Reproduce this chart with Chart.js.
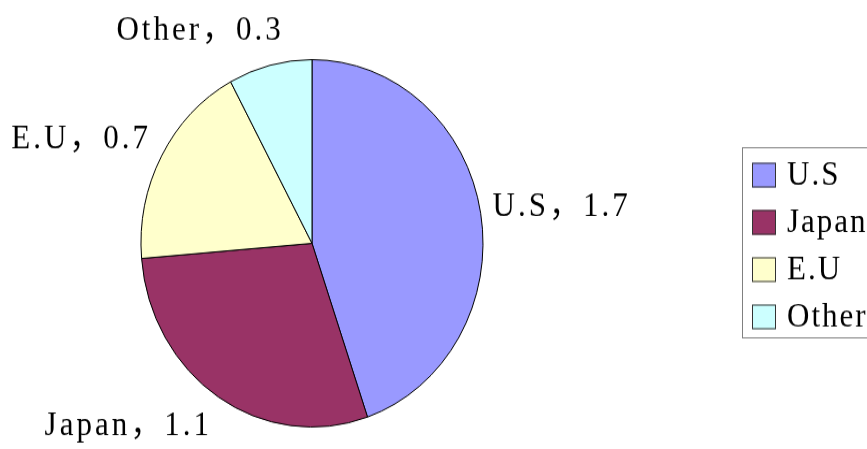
<!DOCTYPE html>
<html>
<head>
<meta charset="utf-8">
<title>Pie</title>
<script src="https://cdn.jsdelivr.net/npm/chart.js"></script>
<style>
  html, body { margin: 0; padding: 0; background: #fff; width: 867px; height: 449px; overflow: hidden; }
  /* the reference pie is a little taller than wide, so stretch the whole drawing */
  #wrap { width: 867px; height: 418px; transform: scaleY(1.0742); transform-origin: 0 0; }
</style>
</head>
<body>
<div id="wrap"><canvas id="pie" width="867" height="418"></canvas></div>
<script>
const categories = ['U.S', 'Japan', 'E.U', 'Other'];
const values = [1.7, 1.1, 0.7, 0.3];
const sliceColors = ['#9999ff', '#993366', '#ffffcc', '#ccffff'];

const FONT = '31px "Liberation Serif", "Noto Sans CJK SC", serif';

// labels outside each slice: "name， value"
const sliceLabels = {
  id: 'sliceLabels',
  afterDatasetsDraw(chart) {
    const ctx = chart.ctx;
    const meta = chart.getDatasetMeta(0);
    ctx.save();
    ctx.font = FONT;
    ctx.fillStyle = '#000';
    ctx.textBaseline = 'middle';
    if ('letterSpacing' in ctx) ctx.letterSpacing = '3px';
    meta.data.forEach((arc, i) => {
      const p = arc.getProps(['x', 'y', 'startAngle', 'endAngle', 'outerRadius'], true);
      const mid = (p.startAngle + p.endAngle) / 2;
      const r = p.outerRadius + 12;
      const ax = p.x + Math.cos(mid) * r;
      const ay = p.y + Math.sin(mid) * r;
      const text = categories[i] + '，' + values[i].toFixed(1);
      const w = ctx.measureText(text).width;
      // near the top the label slides back over the slice a bit
      const shift = Math.cos(mid) < 0 && Math.sin(mid) < -0.9 ? w * 0.1 : 0;
      ctx.textAlign = Math.cos(mid) >= 0 ? 'left' : 'right';
      ctx.fillText(text, ax + shift, ay + Math.sin(mid) * 21);
    });
    ctx.restore();
  }
};

// boxed legend on the right, cut off by the page edge like the original
const boxLegend = {
  id: 'boxLegend',
  afterDraw(chart) {
    const ctx = chart.ctx;
    ctx.save();
    ctx.strokeStyle = '#808080';
    ctx.lineWidth = 1;
    ctx.strokeRect(742.5, 137.5, 200, 177);
    ctx.font = FONT;
    ctx.textAlign = 'left';
    ctx.textBaseline = 'middle';
    if ('letterSpacing' in ctx) ctx.letterSpacing = '2px';
    categories.forEach((c, i) => {
      const cy = 163 + i * 44;
      ctx.fillStyle = sliceColors[i];
      ctx.fillRect(752, cy - 11.5, 24, 23);
      ctx.strokeStyle = '#333';
      ctx.strokeRect(752.5, cy - 11, 23, 22);
      ctx.fillStyle = '#000';
      ctx.fillText(c, 787, cy + 1);
    });
    ctx.restore();
  }
};

new Chart(document.getElementById('pie'), {
  type: 'pie',
  data: {
    labels: categories,
    datasets: [{
      data: values,
      backgroundColor: sliceColors,
      borderColor: '#000',
      borderWidth: 1
    }]
  },
  options: {
    responsive: false,
    animation: false,
    devicePixelRatio: 1,
    layout: { padding: { left: 140.5, right: 383.5, top: 55, bottom: 20 } },
    plugins: {
      legend: { display: false },
      tooltip: { enabled: false }
    }
  },
  plugins: [sliceLabels, boxLegend]
});
</script>
</body>
</html>
